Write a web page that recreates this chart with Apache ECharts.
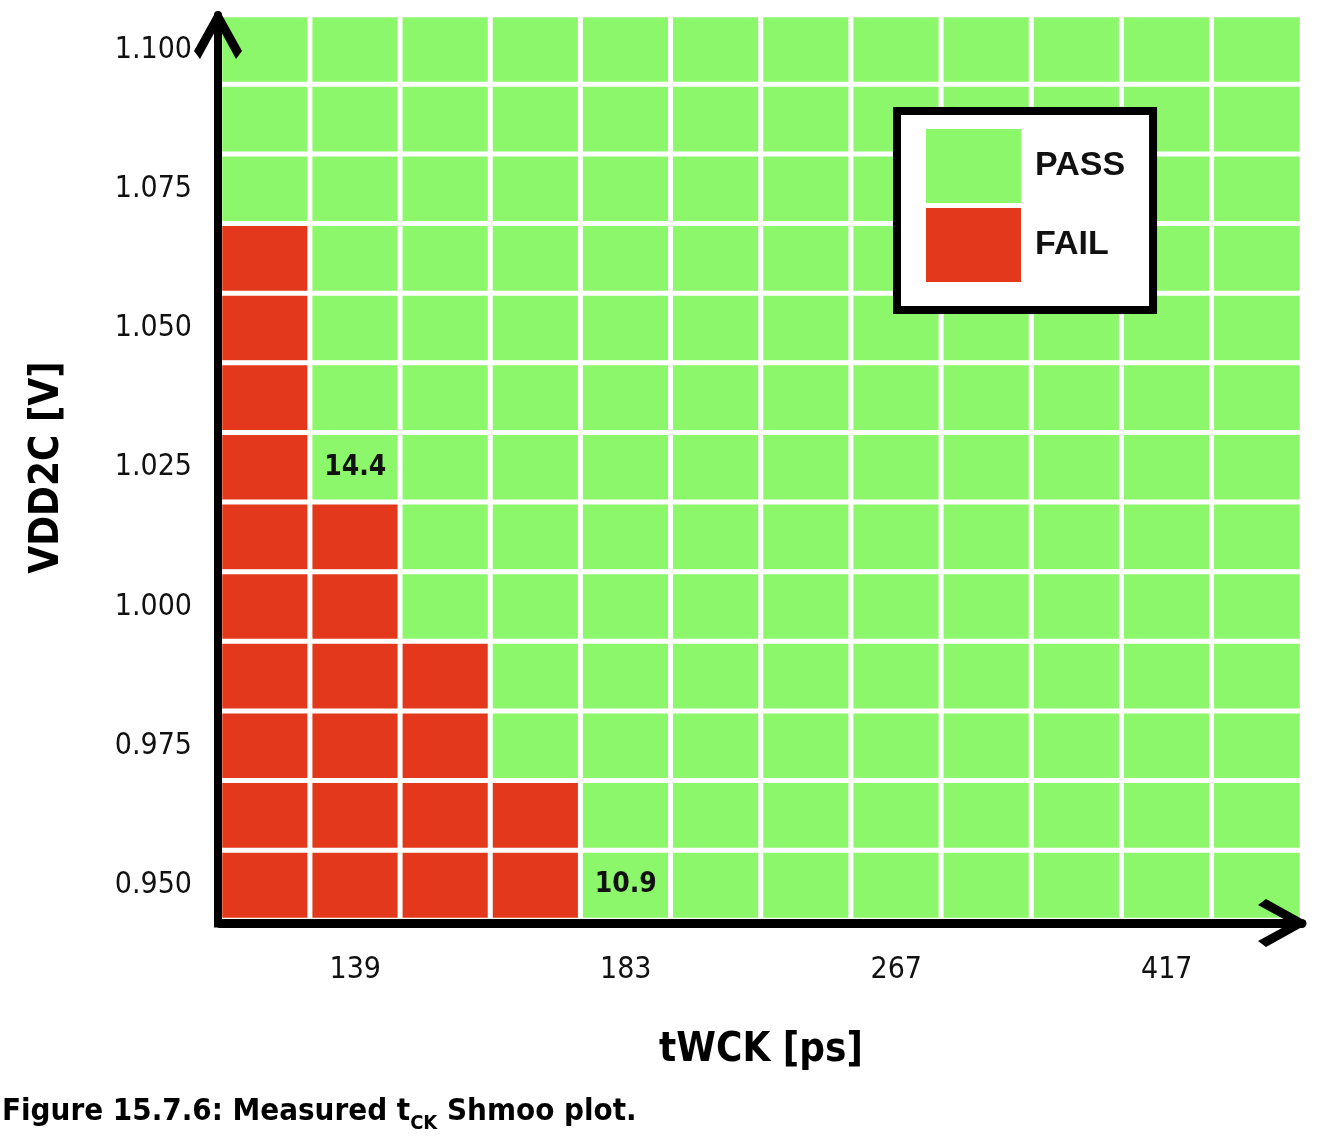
<!DOCTYPE html>
<html>
<head>
<meta charset="utf-8">
<title>Measured tCK Shmoo plot</title>
<script src="https://cdn.jsdelivr.net/npm/echarts@6/dist/echarts.min.js"></script>
<style>
  html, body { margin: 0; padding: 0; background: #fff; }
  #chart { width: 1330px; height: 1144px; }
</style>
</head>
<body>
<div id="chart"></div>
<script>
// tWCK columns, left to right; only every third column has a tick label
var twckLabels = ['', '139', '', '', '183', '', '', '267', '', '', '417', ''];
// VDD2C rows, bottom to top
var vddLevels = ['0.950', '0.9625', '0.975', '0.9875', '1.000', '1.0125', '1.025',
                 '1.0375', '1.050', '1.0625', '1.075', '1.0875', '1.100'];
// result per cell, rows written top (1.100 V) to bottom (0.950 V); P = pass, F = fail
var shmooRows = [
    'PPPPPPPPPPPP',
    'PPPPPPPPPPPP',
    'PPPPPPPPPPPP',
    'FPPPPPPPPPPP',
    'FPPPPPPPPPPP',
    'FPPPPPPPPPPP',
    'FPPPPPPPPPPP',
    'FFPPPPPPPPPP',
    'FFPPPPPPPPPP',
    'FFFPPPPPPPPP',
    'FFFPPPPPPPPP',
    'FFFFPPPPPPPP',
    'FFFFPPPPPPPP'
];
// numbers written inside cells (col / row index from bottom-left)
var cellNotes = [
    { col: 1, row: 6, text: '14.4' },
    { col: 4, row: 0, text: '10.9' }
];
var resultKinds = [
    { value: 0, label: 'FAIL', color: '#e3381b' },
    { value: 1, label: 'PASS', color: '#8df76b' }
];

var NARROW = "'Liberation Sans Narrow', 'DejaVu Sans Condensed', sans-serif";
var ARROW = 'path://M20,0 L28,0 L48,36 L42,44 L24,11 L6,44 L0,36 Z';

var cells = [];
shmooRows.forEach(function (line, i) {
    var row = vddLevels.length - 1 - i;
    line.split('').forEach(function (ch, col) {
        var item = { value: [col, row, ch === 'P' ? 1 : 0] };
        cellNotes.forEach(function (n) {
            if (n.col === col && n.row === row) {
                item.label = { show: true, formatter: n.text };
            }
        });
        cells.push(item);
    });
});

var chart = echarts.init(document.getElementById('chart'));

var option = {
    animation: false,
    backgroundColor: '#fff',
    title: {
        text: '{a|Figure 15.7.6: Measured t}{b|CK}{a| Shmoo plot.}',
        left: 2,
        top: 1090,
        padding: 0,
        textStyle: {
            rich: {
                a: { fontSize: 31, fontWeight: 'bold', fontFamily: NARROW, color: '#000', lineHeight: 44 },
                b: { fontSize: 20, fontWeight: 'bold', fontFamily: NARROW, color: '#000', lineHeight: 22, verticalAlign: 'bottom' }
            }
        }
    },
    grid: { left: 220, right: 28, top: 15, bottom: 224 },
    xAxis: {
        type: 'category',
        z: 10,
        data: twckLabels.map(function (t, i) { return String(i); }),
        offset: 3,
        axisLine: {
            lineStyle: { color: '#000', width: 9 },
            symbol: ['none', ARROW],
            symbolSize: [48, 44],
            symbolOffset: [0, -22]
        },
        axisTick: { show: false },
        splitLine: { show: false },
        axisLabel: {
            interval: 0,
            margin: 32,
            fontSize: 30,
            color: '#111',
            fontFamily: NARROW,
            formatter: function (v, i) { return twckLabels[i]; }
        },
        name: 'tWCK [ps]',
        nameLocation: 'middle',
        nameGap: 108,
        nameTextStyle: { fontSize: 40, fontWeight: 'bold', fontFamily: NARROW, color: '#000' }
    },
    yAxis: {
        type: 'category',
        z: 10,
        data: vddLevels,
        offset: 2,
        axisLine: {
            lineStyle: { color: '#000', width: 8 },
            symbol: ['none', ARROW],
            symbolSize: [48, 44],
            symbolOffset: [0, -22]
        },
        axisTick: { show: false },
        splitLine: { show: false },
        axisLabel: {
            interval: 1,
            margin: 26,
            fontSize: 30,
            color: '#111',
            fontFamily: NARROW
        },
        name: 'VDD2C [V]',
        nameLocation: 'middle',
        nameGap: 150,
        nameTextStyle: { fontSize: 40, fontWeight: 'bold', fontFamily: NARROW, color: '#000' }
    },
    visualMap: {
        type: 'piecewise',
        dimension: 2,
        pieces: resultKinds.map(function (k) {
            return { value: k.value, label: k.label, color: k.color };
        }),
        orient: 'vertical',
        align: 'left',
        left: 893,
        top: 107,
        itemWidth: 95,
        itemHeight: 74,
        itemGap: 5,
        itemSymbol: 'rect',
        textGap: 14,
        padding: [18, 28, 28, 29],
        backgroundColor: '#fff',
        borderColor: '#000',
        borderWidth: 8,
        selectedMode: false,
        hoverLink: false,
        textStyle: { fontSize: 34, fontWeight: 'bold', color: '#111', fontFamily: "'Liberation Sans', Arial, sans-serif" }
    },
    series: [{
        type: 'heatmap',
        data: cells,
        itemStyle: { borderColor: '#fff', borderWidth: 5 },
        label: {
            show: false,
            fontSize: 28,
            fontWeight: 'bold',
            color: '#111',
            fontFamily: NARROW
        },
        emphasis: { disabled: true }
    }]
};

chart.setOption(option);

// fill the corner where the two offset axis lines meet
var a = chart.convertToPixel({ gridIndex: 0 }, [0, 0]);
var b = chart.convertToPixel({ gridIndex: 0 }, [1, 1]);
var gx = a[0] - (b[0] - a[0]) / 2;
var gy = a[1] + (a[1] - b[1]) / 2;
chart.setOption({
    graphic: [{
        type: 'rect',
        shape: { x: gx - 6, y: gy - 1.5, width: 6, height: 9 },
        style: { fill: '#000' },
        z: 100
    }]
});
</script>
</body>
</html>
